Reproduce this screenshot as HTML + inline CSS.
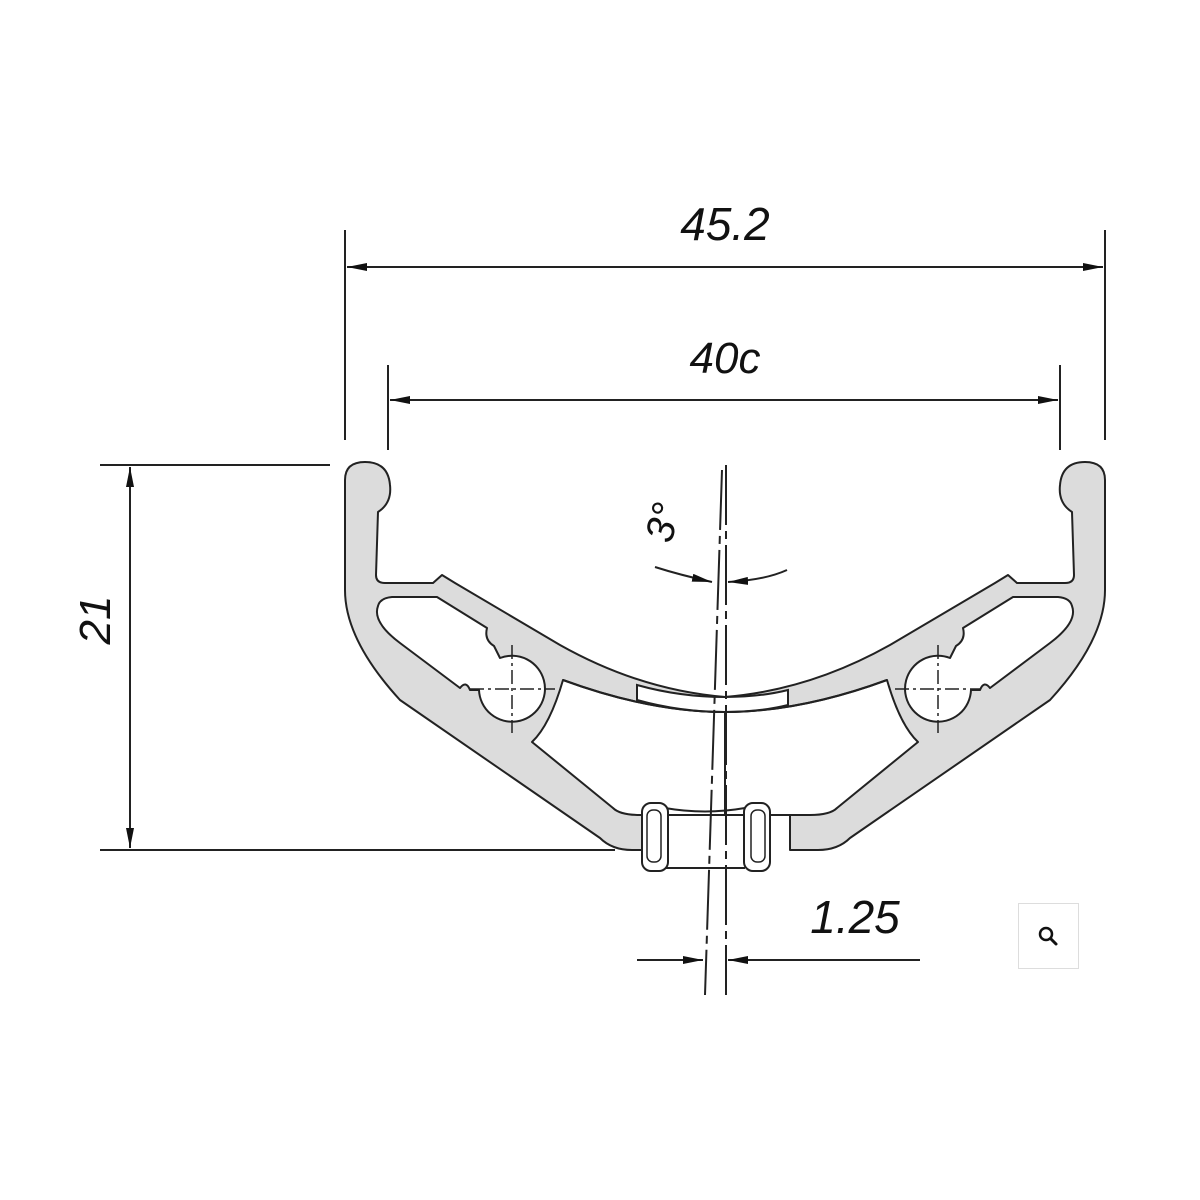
<!DOCTYPE html>
<html><head><meta charset="utf-8"><style>
html,body{margin:0;padding:0;background:#fff;}
svg{display:block;}
text{font-family:"Liberation Sans",sans-serif;font-style:italic;fill:#111;}
</style></head><body>
<svg width="1200" height="1200" viewBox="0 0 1200 1200" xmlns="http://www.w3.org/2000/svg">
<defs>
<marker id="ar" viewBox="0 0 20 8" refX="20" refY="4" markerWidth="20" markerHeight="8" orient="auto-start-reverse" markerUnits="userSpaceOnUse"><path d="M0,0 L20,4 L0,8 z" fill="#111"/></marker>
<g id="half">
<path d="M725,697 Q640,690 560,645 L455,583 L442,575 L433,583 L385,583 Q376,583 376,575 L378,512 Q392,503 390,485 Q388,462 365,462 Q345,462 345,480 L345,590 Q345,640 400,700 L600,838 Q612,850 632,850 L660,850 L660,813 L725,813 Z" fill="#dcdcdc" stroke="#222" stroke-width="2" stroke-linejoin="round"/>
<path d="M378,606 Q380,598 392,597 L437,597 L487,628 Q484,640 494,646 L500,658 A33,33 0 1 1 479,690 L470,690 Q466,680 460,688 L400,643 Q372,622 378,606 Z" fill="#fff" stroke="#222" stroke-width="2" stroke-linejoin="round"/>
<path d="M563,680 Q650,712 725,712 L725,815 L640,815 Q620,815 613,808 L532,742 Q550,725 563,680 Z" fill="#fff" stroke="#222" stroke-width="2" stroke-linejoin="round"/>
</g>
</defs>
<use href="#half"/>
<use href="#half" transform="translate(1450,0) scale(-1,1)"/>
<rect x="700" y="700" width="50" height="10" fill="#fff"/>
<rect x="690" y="816" width="70" height="46" fill="#fff"/>
<path d="M637,685 Q680,697 725,697 Q760,697 788,690 L788,705 Q760,712 725,712 Q680,712 637,700 Z" fill="#fff" stroke="#222" stroke-width="2"/>
<path d="M563,680 Q650,712 725,712 Q800,712 887,680" fill="none" stroke="#222" stroke-width="2"/>
<path d="M665,808 Q705,815 745,808 M665,868 L745,868" fill="none" stroke="#222" stroke-width="2"/>
<rect x="642" y="803" width="26" height="68" rx="9" fill="#fff" stroke="#222" stroke-width="2"/>
<rect x="647" y="810" width="14" height="52" rx="6" fill="none" stroke="#222" stroke-width="1.5"/>
<rect x="744" y="803" width="26" height="68" rx="9" fill="#fff" stroke="#222" stroke-width="2"/>
<rect x="751" y="810" width="14" height="52" rx="6" fill="none" stroke="#222" stroke-width="1.5"/>
<g stroke="#222" stroke-width="1.5" stroke-dasharray="14,4,3,4">
<line x1="512" y1="645" x2="512" y2="733"/><line x1="470" y1="689" x2="555" y2="689"/>
<line x1="938" y1="645" x2="938" y2="733"/><line x1="895" y1="689" x2="980" y2="689"/>
</g>
<g stroke="#222" stroke-width="2" fill="none">
<line x1="726" y1="465" x2="726" y2="995" stroke-dasharray="60,6,8,6"/>
<line x1="722" y1="470" x2="705" y2="995" stroke-dasharray="60,6,8,6"/>
</g>
<g stroke="#222" stroke-width="2" fill="none">
<line x1="345" y1="230" x2="345" y2="440"/><line x1="1105" y1="230" x2="1105" y2="440"/>
<line x1="347" y1="267" x2="1103" y2="267" marker-start="url(#ar)" marker-end="url(#ar)"/>
<line x1="388" y1="365" x2="388" y2="450"/><line x1="1060" y1="365" x2="1060" y2="450"/>
<line x1="390" y1="400" x2="1058" y2="400" marker-start="url(#ar)" marker-end="url(#ar)"/>
<line x1="100" y1="465" x2="330" y2="465"/><line x1="100" y1="850" x2="615" y2="850"/>
<line x1="130" y1="467" x2="130" y2="848" marker-start="url(#ar)" marker-end="url(#ar)"/>
<line x1="637" y1="960" x2="703" y2="960" marker-end="url(#ar)"/>
<line x1="920" y1="960" x2="728" y2="960" marker-end="url(#ar)"/>
<path d="M655,567 Q680,575 712,582" marker-end="url(#ar)"/>
<path d="M787,570 Q765,580 728,582" marker-end="url(#ar)"/>
</g>
<text x="725" y="240" font-size="46" text-anchor="middle">45.2</text>
<text x="725" y="373" font-size="44" text-anchor="middle">40c</text>
<text x="855" y="933" font-size="46" text-anchor="middle">1.25</text>
<text transform="translate(110,620) rotate(-90)" font-size="44" text-anchor="middle">21</text>
<text transform="translate(676,526) rotate(-75)" font-size="40" text-anchor="middle">3°</text>
<rect x="1018.5" y="903.5" width="60" height="65" fill="#fff" stroke="#ddd"/>
<circle cx="1046" cy="934" r="6" fill="none" stroke="#111" stroke-width="2.5"/>
<line x1="1050.5" y1="938.5" x2="1056" y2="944" stroke="#111" stroke-width="3" stroke-linecap="round"/>
</svg>
</body></html>
